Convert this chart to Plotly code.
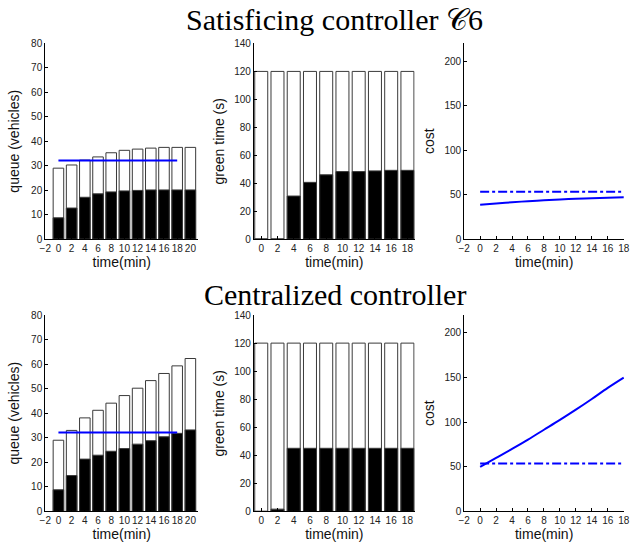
import plotly.graph_objects as go

# ---------------- data ----------------
queue_time = [0, 2, 4, 6, 8, 10, 12, 14, 16, 18, 20]
sat_queue_total = [29.0, 30.3, 32.3, 33.6, 35.3, 36.3, 36.8, 37.2, 37.5, 37.5, 37.5]
sat_queue_part = [8.7, 12.7, 17.1, 18.5, 19.3, 19.7, 19.9, 20.1, 20.1, 20.1, 20.1]
cen_queue_total = [29.0, 33.0, 38.1, 41.2, 44.1, 47.2, 50.2, 53.3, 56.2, 59.3, 62.3]
cen_queue_part = [8.8, 14.6, 21.3, 22.9, 24.5, 25.6, 27.4, 28.8, 30.4, 31.8, 33.2]

queue_ref_time = [0, 18]
sat_queue_ref = [32.1, 32.1]
cen_queue_ref = [32.1, 32.1]

green_time = [0, 2, 4, 6, 8, 10, 12, 14, 16, 18]
cycle_total = [120, 120, 120, 120, 120, 120, 120, 120, 120, 120]
sat_green = [0, 0, 30.8, 40.6, 46.0, 48.3, 48.3, 48.8, 49.2, 49.2]
cen_green = [0, 1.6, 45, 45, 45, 45, 45, 45, 45, 45]

cost_time = [0, 2, 4, 6, 8, 10, 12, 14, 16, 18]
sat_cost = [38.5, 40.0, 41.4, 42.6, 43.6, 44.5, 45.3, 46.0, 46.5, 47.0]
cen_cost = [50.0, 60.0, 70.0, 80.5, 91.5, 102.5, 114.0, 126.0, 138.5, 150.0]
cost_ref_time = [0, 18]
sat_cost_ref = [53.3, 53.3]
cen_cost_ref = [53.7, 53.7]

titles = ["Satisficing controller 𝒞6", "Centralized controller"]
queue_ticks = [-2, 0, 2, 4, 6, 8, 10, 12, 14, 16, 18, 20]
green_ticks = [0, 2, 4, 6, 8, 10, 12, 14, 16, 18]
cost_ticks = [-2, 0, 2, 4, 6, 8, 10, 12, 14, 16, 18]
cost_yticks = [0, 50, 100, 150, 200]

# ---------------- layout helpers ----------------
W, H = 636, 548
def px(x):
    return x / W
def py(y):
    return 1 - y / H

cols = [(40, 196), (252.7, 416.6), (467, 630)]
rows = [(38.3, 238.3), (316, 516.7)]

fig = go.Figure()

BLUE = "rgb(0,0,255)"
EDGE = "#3a3a3a"
TICKFONT = dict(family="Liberation Sans, Arial, sans-serif", size=10, color="#222")
TITLEFONT = dict(family="Liberation Sans, Arial, sans-serif", size=14, color="#111")

def axis_common():
    return dict(showline=True, linecolor="black", linewidth=1, ticks="inside",
                ticklen=3, tickcolor="black", showgrid=False, zeroline=False,
                mirror=False, tickfont=TICKFONT, fixedrange=True, tickangle=0)

data_rows = [
    (sat_queue_total, sat_queue_part, sat_queue_ref, sat_green, sat_cost, sat_cost_ref),
    (cen_queue_total, cen_queue_part, cen_queue_ref, cen_green, cen_cost, cen_cost_ref),
]

ax = 0
for r, (qt, qp, qref, gr, cst, cref) in enumerate(data_rows):
    y0, y1 = rows[r]
    for c in range(3):
        ax += 1
        xa = "x" if ax == 1 else f"x{ax}"
        ya = "y" if ax == 1 else f"y{ax}"
        xkey = "xaxis" if ax == 1 else f"xaxis{ax}"
        ykey = "yaxis" if ax == 1 else f"yaxis{ax}"
        xl, xr = cols[c]
        xaxis = axis_common()
        yaxis = axis_common()
        xaxis.update(domain=[px(xl), px(xr)], anchor=ya,
                     title=dict(text="time(min)", font=TITLEFONT, standoff=2))
        yaxis.update(domain=[py(y1), py(y0)], anchor=xa)
        if c == 0:
            fig.add_trace(go.Bar(x=queue_time, y=qt, width=1.6, xaxis=xa, yaxis=ya,
                                 marker=dict(color="white", line=dict(color=EDGE, width=1)),
                                 showlegend=False))
            fig.add_trace(go.Bar(x=queue_time, y=qp, width=1.6, xaxis=xa, yaxis=ya,
                                 marker=dict(color="black", line=dict(color=EDGE, width=1)),
                                 showlegend=False))
            fig.add_trace(go.Scatter(x=queue_ref_time, y=qref, mode="lines", xaxis=xa, yaxis=ya,
                                     line=dict(color=BLUE, width=2), showlegend=False))
            xaxis.update(range=[-2, 21.2], tickvals=queue_ticks)
            yaxis.update(range=[0, 80], dtick=10,
                         title=dict(text="queue (vehicles)", font=TITLEFONT, standoff=8))
        elif c == 1:
            fig.add_trace(go.Bar(x=green_time, y=cycle_total, width=1.6, xaxis=xa, yaxis=ya,
                                 marker=dict(color="white", line=dict(color=EDGE, width=1)),
                                 showlegend=False))
            fig.add_trace(go.Bar(x=green_time, y=gr, width=1.6, xaxis=xa, yaxis=ya,
                                 marker=dict(color="black", line=dict(color=EDGE, width=1)),
                                 showlegend=False))
            xaxis.update(range=[-0.9, 18.9], tickvals=green_ticks)
            yaxis.update(range=[0, 140], dtick=20,
                         title=dict(text="green time (s)", font=TITLEFONT, standoff=6))
        else:
            fig.add_trace(go.Scatter(x=cost_ref_time, y=cref, mode="lines", xaxis=xa, yaxis=ya,
                                     line=dict(color=BLUE, width=2, dash="dashdot"),
                                     showlegend=False))
            fig.add_trace(go.Scatter(x=cost_time, y=cst, mode="lines", xaxis=xa, yaxis=ya,
                                     line=dict(color=BLUE, width=2, shape="spline"),
                                     showlegend=False))
            xaxis.update(range=[-2, 18.05], tickvals=cost_ticks)
            yaxis.update(range=[0, 220], tickvals=cost_yticks,
                         title=dict(text="cost", font=TITLEFONT, standoff=6))
        fig.update_layout({xkey: xaxis, ykey: yaxis})

title_y = [33, 314]
for i, t in enumerate(titles):
    fig.add_annotation(text=t, x=0.527, y=py(title_y[i]), xref="paper", yref="paper",
                       xanchor="center", yanchor="bottom", showarrow=False,
                       font=dict(family="Liberation Serif, Times New Roman, serif", size=30,
                                 color="black"))

fig.update_layout(width=W, height=H, autosize=False, barmode="overlay",
                  margin=dict(l=0, r=0, t=0, b=0),
                  paper_bgcolor="white", plot_bgcolor="white", bargap=0)

fig.write_html("out.html", config={"displayModeBar": False, "staticPlot": True},
               post_script="document.body.style.margin='0';document.body.style.overflow='hidden';")
